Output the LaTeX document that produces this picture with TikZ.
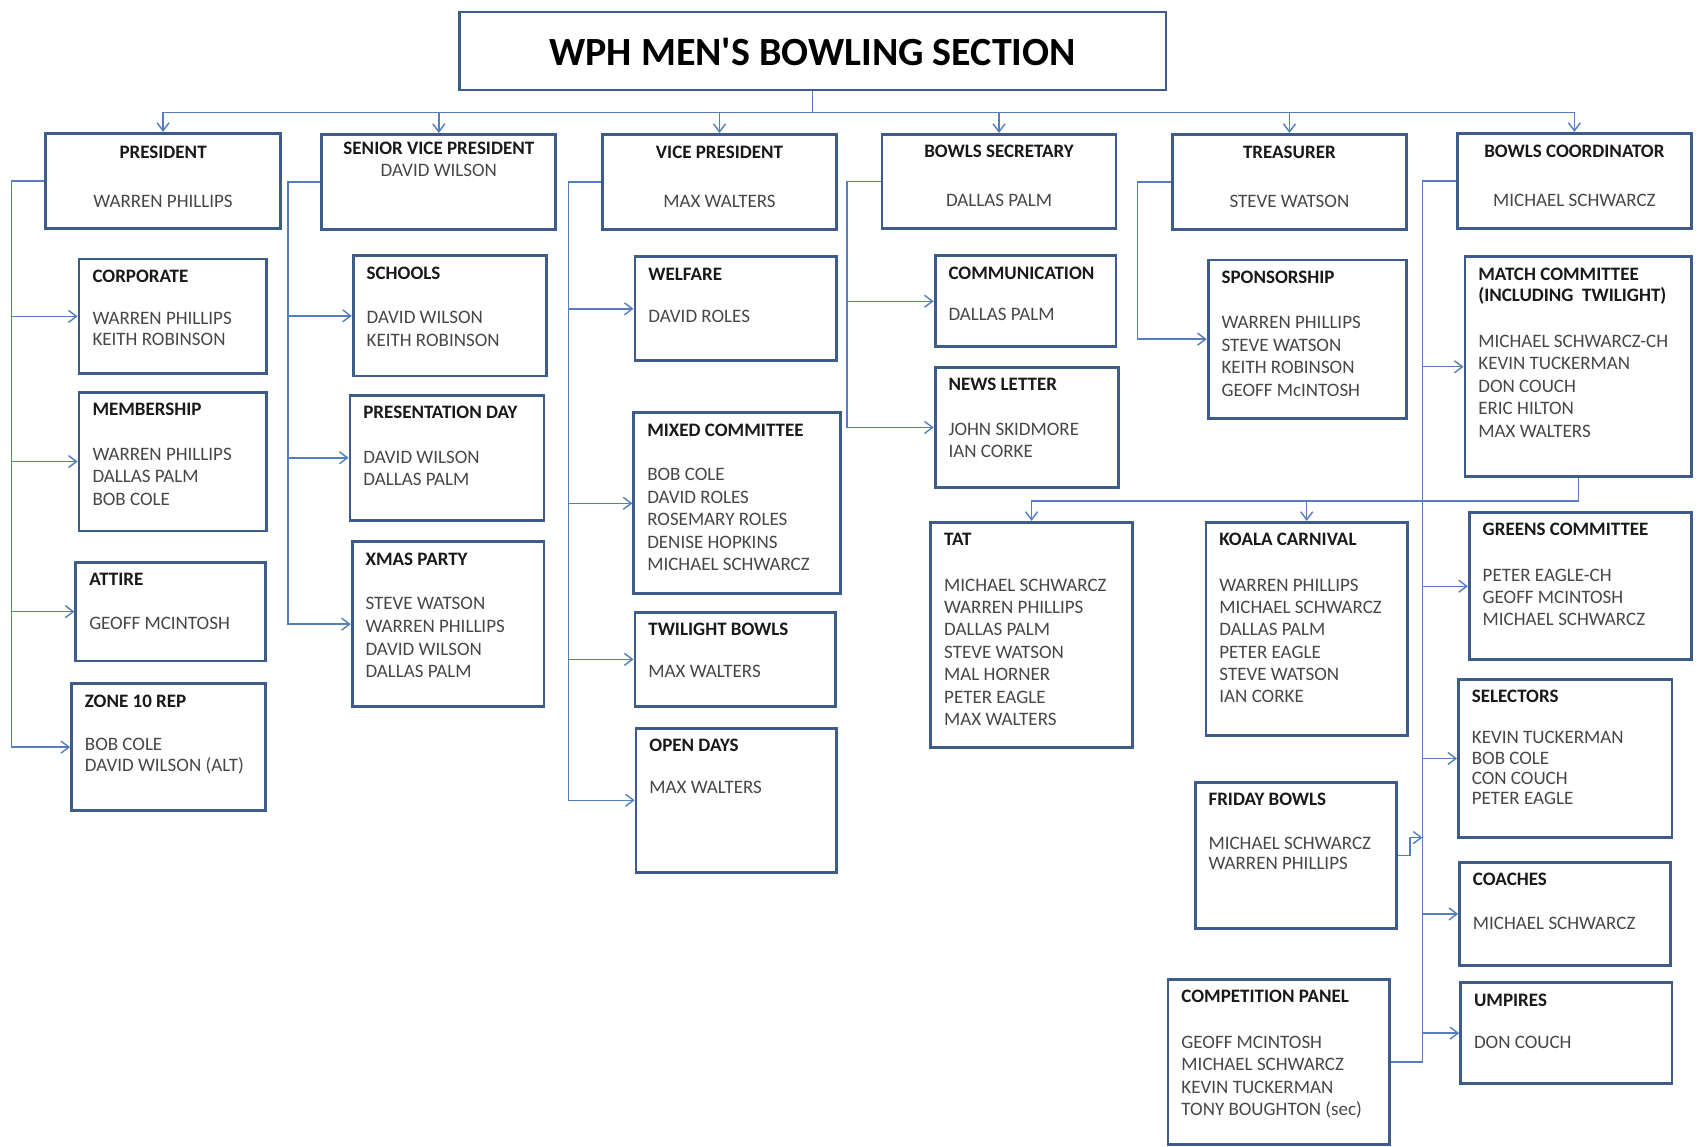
\documentclass[tikz,border=0pt]{standalone}
\usepackage{fontspec}
\setmainfont{Carlito}
\usetikzlibrary{arrows.meta,calc}
\definecolor{boxblue}{RGB}{62,92,138}
\definecolor{lineblue}{RGB}{84,126,190}
\tikzset{
  obox/.style={draw=boxblue, line width=1.4pt, inner sep=0pt, rectangle, fill=white},
  ttl/.style={anchor=base west, inner sep=0pt, font=\fontsize{9.5}{11}\selectfont\bfseries, text=black!90},
  nms/.style={anchor=base west, inner sep=0pt, font=\fontsize{9.5}{11}\selectfont, text=black!72},
  conn/.style={draw=lineblue, line width=0.7pt},
  arr/.style={conn, -{Straight Barb[length=4pt,width=6pt]}},
}
% name, x1, y1, x2, y2, title lines, first name cap-centre y, line skip, names
\newcommand\orgbox[9]{%
  \node[obox, minimum width={(#4-#2)*0.54175pt}, minimum height={(#5-#3)*0.54175pt}] (#1) at ({(#2+#4)/2},{(#3+#5)/2}) {};
  \foreach \tl [count=\k from 0] in {#6}{\node[ttl] (#1-t\k) at ({#2+12},{#3+21.6+\k*20}) {\tl};}
  \foreach \nm [count=\k from 0] in {#9}{\node[nms] (#1-n\k) at ({#2+12},{#7+5.6+\k*#8}) {\nm};}
}
% name, x1, y1, x2, y2, title, title y, person, person y
\newcommand\topbox[9]{%
  \node[obox, minimum width={(#4-#2)*0.54175pt}, minimum height={(#5-#3)*0.54175pt}] (#1) at ({(#2+#4)/2},{(#3+#5)/2}) {};
  \node[ttl, anchor=base] (#1-t) at ({(#2+#4)/2},{#7+5.6}) {#6};
  \node[nms, anchor=base] (#1-n) at ({(#2+#4)/2},{#9+5.6}) {#8};
}
\begin{document}
\begin{tikzpicture}[x=0.54175pt,y=-0.54175pt]
\useasboundingbox (0,0) rectangle (1568,1058);
\fill[white] (0,0) rectangle (1568,1058);

\coordinate (bus) at (750,104);
\node[obox, minimum width={652*0.54175pt}, minimum height={72*0.54175pt}] (title) at (750,47) {};
\node[font=\fontsize{20}{24}\selectfont\bfseries, anchor=base, inner sep=0pt] (titletext) at (750,60) {WPH MEN\textquotesingle S BOWLING SECTION};

\topbox{pres}{42}{123}{259}{211}{PRESIDENT}{141}{WARREN PHILLIPS}{186}
\topbox{svp}{297}{124}{513}{212}{SENIOR VICE PRESIDENT}{137}{DAVID WILSON}{157}
\topbox{vp}{556}{124}{772}{212}{VICE PRESIDENT}{141}{MAX WALTERS}{186}
\topbox{sec}{814}{124}{1030}{211}{BOWLS SECRETARY}{140}{DALLAS PALM}{185}
\topbox{treas}{1082}{124}{1298}{212}{TREASURER}{141}{STEVE WATSON}{186}
\topbox{coord}{1345}{123}{1561}{211}{BOWLS COORDINATOR}{140}{MICHAEL SCHWARCZ}{185}

% President column
\orgbox{corp}{73}{239}{246}{345}{CORPORATE}{294}{19}{WARREN PHILLIPS,KEITH ROBINSON}
\orgbox{memb}{73}{362}{246}{490}{MEMBERSHIP}{419}{21}{WARREN PHILLIPS,DALLAS PALM,BOB COLE}
\orgbox{attire}{70}{519}{245}{610}{ATTIRE}{575}{20}{GEOFF MCINTOSH}
\orgbox{zone}{66}{631}{245}{748}{ZONE 10 REP}{687}{19}{BOB COLE,DAVID WILSON (ALT)}
% Senior VP column
\orgbox{schools}{326}{236}{504}{347}{SCHOOLS}{293}{21}{DAVID WILSON,KEITH ROBINSON}
\orgbox{presday}{323}{365}{502}{480}{PRESENTATION DAY}{422}{20.5}{DAVID WILSON,DALLAS PALM}
\orgbox{xmas}{325}{500}{502}{652}{XMAS PARTY}{557}{21}{STEVE WATSON,WARREN PHILLIPS,DAVID WILSON,DALLAS PALM}
% VP column
\orgbox{welfare}{586}{237}{772}{333}{WELFARE}{292}{20}{DAVID ROLES}
\orgbox{mixed}{585}{381}{776}{548}{MIXED COMMITTEE}{438}{20.8}{BOB COLE,DAVID ROLES,ROSEMARY ROLES,DENISE HOPKINS,MICHAEL SCHWARCZ}
\orgbox{twilight}{586}{565}{771}{652}{TWILIGHT BOWLS}{620}{20}{MAX WALTERS}
\orgbox{open}{587}{672}{772}{805}{OPEN DAYS}{727}{20}{MAX WALTERS}
% Secretary column
\orgbox{comm}{863}{236}{1030}{320}{COMMUNICATION}{290}{20}{DALLAS PALM}
\orgbox{news}{863}{339}{1032}{450}{NEWS LETTER}{396}{21}{JOHN SKIDMORE,IAN CORKE}
% Treasurer column
\orgbox{spons}{1115}{240}{1298}{386}{SPONSORSHIP}{298}{20.7}{WARREN PHILLIPS,STEVE WATSON,KEITH ROBINSON,GEOFF McINTOSH}
% Coordinator column
\orgbox{match}{1352}{237}{1561}{440}{MATCH COMMITTEE,{(INCLUDING~~TWILIGHT)}}{315}{20.75}{MICHAEL SCHWARCZ-CH,KEVIN TUCKERMAN,DON COUCH,ERIC HILTON,MAX WALTERS}
\orgbox{tat}{859}{482}{1045}{690}{TAT}{540}{20.67}{MICHAEL SCHWARCZ,WARREN PHILLIPS,DALLAS PALM,STEVE WATSON,MAL HORNER,PETER EAGLE,MAX WALTERS}
\orgbox{koala}{1113}{482}{1299}{679}{KOALA CARNIVAL}{540}{20.6}{WARREN PHILLIPS,MICHAEL SCHWARCZ,DALLAS PALM,PETER EAGLE,STEVE WATSON,IAN CORKE}
\orgbox{greens}{1356}{473}{1561}{609}{GREENS COMMITTEE}{531}{20.5}{PETER EAGLE-CH,GEOFF MCINTOSH,MICHAEL SCHWARCZ}
\orgbox{sel}{1346}{627}{1543}{773}{SELECTORS}{681}{18.7}{KEVIN TUCKERMAN,BOB COLE,CON COUCH,PETER EAGLE}
\orgbox{fri}{1103}{722}{1289}{857}{FRIDAY BOWLS}{778}{19}{MICHAEL SCHWARCZ,WARREN PHILLIPS}
\orgbox{coach}{1347}{796}{1542}{891}{COACHES}{852}{20}{MICHAEL SCHWARCZ}
\orgbox{comp}{1078}{904}{1282}{1056}{COMPETITION PANEL}{962}{20.7}{GEOFF MCINTOSH,MICHAEL SCHWARCZ,KEVIN TUCKERMAN,TONY BOUGHTON (sec)}
\orgbox{ump}{1348}{907}{1543}{1000}{UMPIRES}{962}{20}{DON COUCH}

% connectors
\foreach \b in {pres,svp,vp,sec,treas,coord}{\draw[arr] (title.south) -- (bus) -| (\b.north);}
\foreach \c in {corp,memb,attire,zone}{\draw[arr] (pres.west) -- ++(-30,0) |- (\c.west);}
\foreach \c in {schools,presday,xmas}{\draw[arr] (svp.west) -- ++(-30,0) |- (\c.west);}
\foreach \c in {welfare,mixed,twilight,open}{\draw[arr] (vp.west) -- ++(-30,0) |- (\c.west);}
\foreach \c in {comm,news}{\draw[arr] (sec.west) -- ++(-31,0) |- (\c.west);}
\draw[arr] (treas.west) -- ++(-31,0) |- (spons.west);
\foreach \c in {match,greens,sel,coach,ump}{\draw[arr] (coord.west) -- ++(-31,0) |- (\c.west);}
\coordinate (ctr) at ($(coord.west)+(-31,0)$);
\draw[conn] (comp.east) -| (ctr);
\coordinate (fj) at ($(ctr)+(0,606)$);
\draw[arr] (fri.east) -- ++(11,0) |- (fj);
\coordinate (mj) at ($(match.south)+(0,21)$);
\draw[arr] (match.south) -- (mj) -| (tat.north);
\draw[arr] (match.south) -- (mj) -| (koala.north);
\end{tikzpicture}
\end{document}
